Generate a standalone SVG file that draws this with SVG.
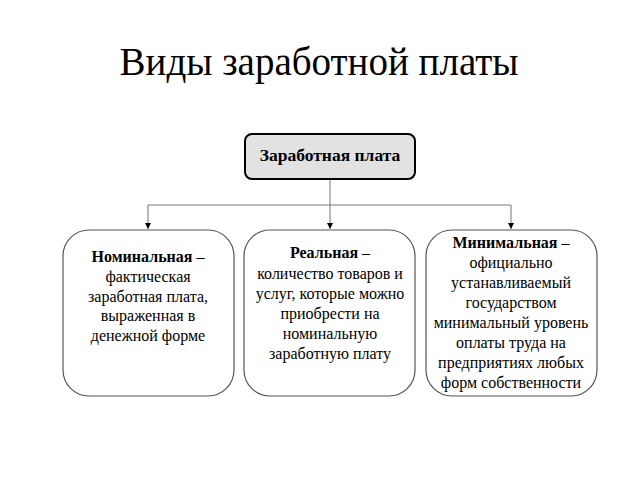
<svg xmlns="http://www.w3.org/2000/svg" width="640" height="480" viewBox="0 0 640 480">
<style>
.t{font-family:"Liberation Serif","Times New Roman",serif;font-size:16px;fill:#000;text-anchor:middle}
.b{font-weight:bold}
.box{fill:#fff;stroke:#555;stroke-width:1.2}
.con{fill:none;stroke:#777;stroke-width:1}
</style>
<defs>
<marker id="ar" markerWidth="8" markerHeight="8" refX="6" refY="3" orient="auto" markerUnits="userSpaceOnUse">
<path d="M0,0 L6,3 L0,6 Z" fill="#000"/>
</marker>
</defs>
<rect width="640" height="480" fill="#fff"/>
<text x="319" y="75" style="font-family:'Liberation Serif','Times New Roman',serif;font-size:39px;text-anchor:middle;fill:#000">Виды заработной платы</text>
<g id="connectors">
<path class="con" d="M330,179 V205"/>
<path class="con" d="M148,205 H511"/>
<path class="con" d="M148,205 V229" marker-end="url(#ar)"/>
<path class="con" d="M330,205 V229" marker-end="url(#ar)"/>
<path class="con" d="M511,205 V229" marker-end="url(#ar)"/>
</g>
<g id="root">
<rect x="245" y="134" width="170" height="45" rx="7" fill="#e2e2e2" stroke="#000" stroke-width="2"/>
<text class="t b" x="330" y="161" style="font-size:17.5px">Заработная плата</text>
</g>
<g id="nominal">
<rect class="box" x="63" y="230" width="171" height="166" rx="26"/>
<text class="t" x="148" y="262"><tspan class="b">Номинальная</tspan> –</text>
<text class="t" x="148" y="282">фактическая</text>
<text class="t" x="148" y="302">заработная плата,</text>
<text class="t" x="148" y="321">выраженная в</text>
<text class="t" x="148" y="341">денежной форме</text>
</g>
<g id="real">
<rect class="box" x="244" y="230" width="171" height="166" rx="26"/>
<text class="t" x="330" y="258"><tspan class="b">Реальная</tspan> –</text>
<text class="t" x="330" y="279">количество товаров и</text>
<text class="t" x="330" y="299">услуг, которые можно</text>
<text class="t" x="330" y="319">приобрести на</text>
<text class="t" x="330" y="339">номинальную</text>
<text class="t" x="330" y="359">заработную плату</text>
</g>
<g id="minimal">
<rect class="box" x="426" y="230" width="171" height="166" rx="26"/>
<text class="t" x="511" y="248"><tspan class="b">Минимальная</tspan> –</text>
<text class="t" x="511" y="268">официально</text>
<text class="t" x="511" y="288">устанавливаемый</text>
<text class="t" x="511" y="308">государством</text>
<text class="t" x="511" y="328">минимальный уровень</text>
<text class="t" x="511" y="348">оплаты труда на</text>
<text class="t" x="511" y="368">предприятиях любых</text>
<text class="t" x="511" y="388">форм собственности</text>
</g>
</svg>
